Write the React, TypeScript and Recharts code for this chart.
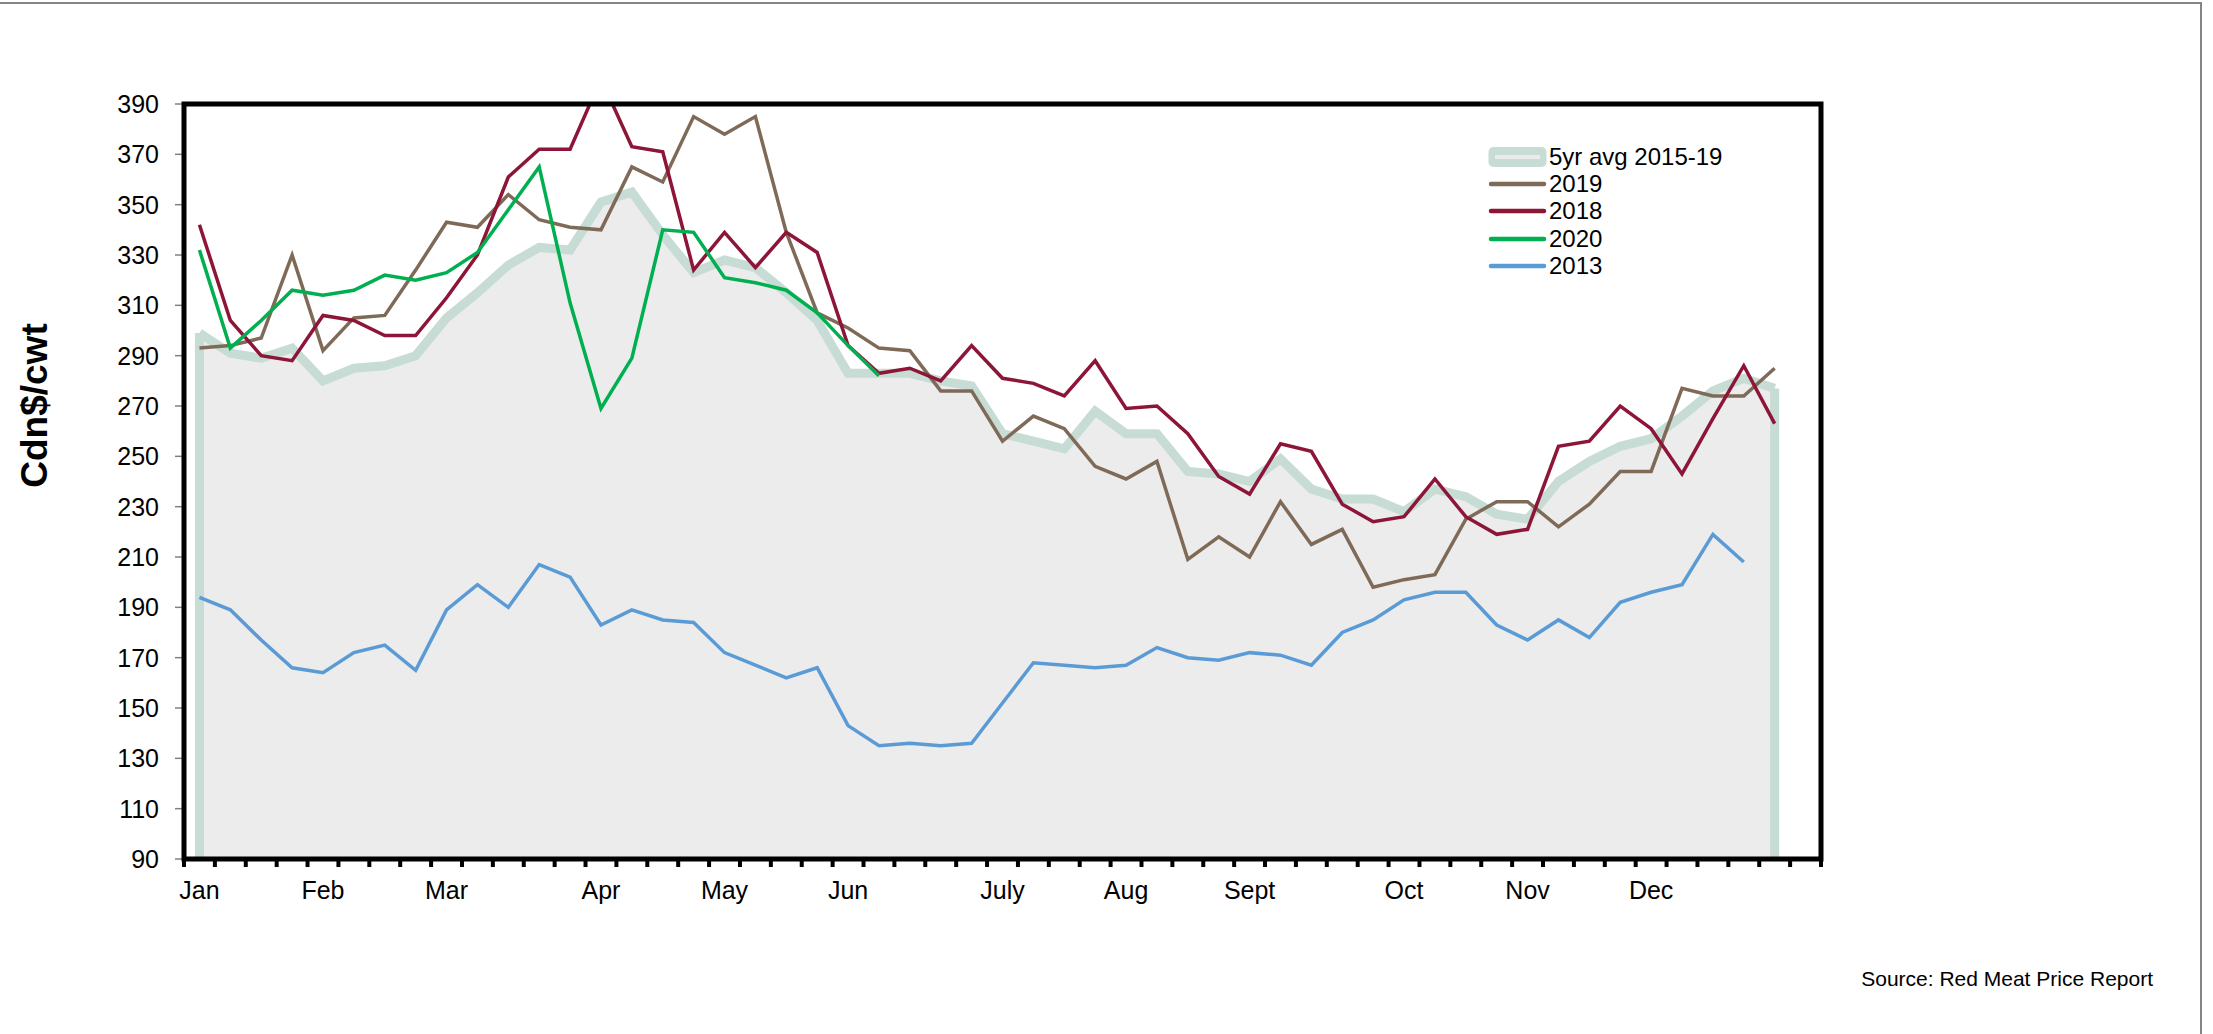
import { ComposedChart, Area, Line, XAxis, YAxis, ReferenceArea, ReferenceLine } from 'recharts';

const FONT = '"Liberation Sans", Arial, sans-serif';

// weekly categories, one slot past the last data point
const weeks = [
    'W1', 'W2', 'W3', 'W4', 'W5', 'W6', 'W7', 'W8', 'W9', 'W10',
    'W11', 'W12', 'W13', 'W14', 'W15', 'W16', 'W17', 'W18', 'W19', 'W20',
    'W21', 'W22', 'W23', 'W24', 'W25', 'W26', 'W27', 'W28', 'W29', 'W30',
    'W31', 'W32', 'W33', 'W34', 'W35', 'W36', 'W37', 'W38', 'W39', 'W40',
    'W41', 'W42', 'W43', 'W44', 'W45', 'W46', 'W47', 'W48', 'W49', 'W50',
    'W51', 'W52', 'W53',
];

const monthTicks = ['W1', 'W5', 'W9', 'W14', 'W18', 'W22', 'W27', 'W31', 'W35', 'W40', 'W44', 'W48'];
const monthLabels = ['Jan', 'Feb', 'Mar', 'Apr', 'May', 'Jun', 'July', 'Aug', 'Sept', 'Oct', 'Nov', 'Dec'];

const yTicks = [90, 110, 130, 150, 170, 190, 210, 230, 250, 270, 290, 310, 330, 350, 370, 390];

const avg5 = [
    299, 291, 289, 293, 280, 285, 286, 290, 305, 315,
    326, 333, 332, 351, 355, 338, 323, 328, 325, 315,
    304, 283, 283, 283, 280, 278, 259, 256, 253, 268,
    259, 259, 244, 243, 240, 249, 237, 233, 233, 228,
    237, 234, 227, 225, 240, 248, 254, 257, 266, 276,
    281, 277,
];

const y2019 = [
    293, 294, 297, 330, 292, 305, 306, 324, 343, 341,
    354, 344, 341, 340, 365, 359, 385, 378, 385, 339,
    307, 301, 293, 292, 276, 276, 256, 266, 261, 246,
    241, 248, 209, 218, 210, 232, 215, 221, 198, 201,
    203, 225, 232, 232, 222, 231, 244, 244, 277, 274,
    274, 285,
];

const y2018 = [
    342, 304, 290, 288, 306, 304, 298, 298, 313, 330,
    361, 372, 372, 400, 373, 371, 324, 339, 325, 339,
    331, 294, 283, 285, 280, 294, 281, 279, 274, 288,
    269, 270, 259, 242, 235, 255, 252, 231, 224, 226,
    241, 226, 219, 221, 254, 256, 270, 261, 243, 265,
    286, 263,
];

const y2020 = [
    332, 293, 304, 316, 314, 316, 322, 320, 323, 331,
    348, 365, 311, 269, 289, 340, 339, 321, 319, 316,
    307, 294, 282,
];

const y2013 = [
    194, 189, 177, 166, 164, 172, 175, 165, 189, 199,
    190, 207, 202, 183, 189, 185, 184, 172, 167, 162,
    166, 143, 135, 136, 135, 136, 152, 168, 167, 166,
    167, 174, 170, 169, 172, 171, 167, 180, 185, 193,
    196, 196, 183, 177, 185, 178, 192, 196, 199, 219,
    208,
];

const AVG_STROKE = '#c6dcd4';

const lineSeries = [
    { key: 'y2019', name: '2019', color: '#7f6a58' },
    { key: 'y2018', name: '2018', color: '#8c1538' },
    { key: 'y2020', name: '2020', color: '#00b050' },
    { key: 'y2013', name: '2013', color: '#5b9bd5' },
];

const data = weeks.map((week, i) => ({
    week,
    avg: avg5[i] ?? null,
    y2019: y2019[i] ?? null,
    y2018: y2018[i] ?? null,
    y2020: y2020[i] ?? null,
    y2013: y2013[i] ?? null,
}));

const tickStyle = { fontFamily: FONT, fontSize: 25, fill: '#000' };

// small black marks on the week boundaries (left edge of each band, plus the far right edge)
const WeekMark = ({ x, y, payload, index }: any) => {
    const half = payload?.offset ?? 15.44;
    return (
        <g>
            <line x1={x - half} y1={y} x2={x - half} y2={y + 8} stroke="#000" strokeWidth={4} />
            {index === weeks.length - 1 && (
                <line x1={x + half} y1={y} x2={x + half} y2={y + 8} stroke="#000" strokeWidth={4} />
            )}
        </g>
    );
};

const YLabel = ({ viewBox }: any) => {
    const cx = viewBox.x + 47;
    const cy = viewBox.y + viewBox.height / 2 - 76;
    return (
        <text x={cx} y={cy} transform={`rotate(-90 ${cx} ${cy})`} textAnchor="middle"
            fontFamily={FONT} fontSize={37} fontWeight="bold" fill="#000">
            Cdn$/cwt
        </text>
    );
};

const LegendBox = () => (
    <div style={{ position: 'absolute', left: 1488, top: 143, fontFamily: FONT, fontSize: 24, color: '#000' }}>
        <div style={{ display: 'flex', alignItems: 'center', height: 27.3 }}>
            <svg width={59} height={22}>
                <rect x={0.5} y={1} width={58} height={20} rx={5} fill={AVG_STROKE} />
                <rect x={7} y={9} width={45} height={4} fill="#e9ecea" />
            </svg>
            <span style={{ marginLeft: 2 }}>5yr avg 2015-19</span>
        </div>
        {lineSeries.map((s) => (
            <div key={s.key} style={{ display: 'flex', alignItems: 'center', height: 27.3 }}>
                <svg width={59} height={22}>
                    <line x1={3} y1={11} x2={56} y2={11} stroke={s.color} strokeWidth={4.5} strokeLinecap="round" />
                </svg>
                <span style={{ marginLeft: 2 }}>{s.name}</span>
            </div>
        ))}
    </div>
);

const App = () => {
    const last = avg5.length - 1;
    return (
        <div style={{ position: 'absolute', left: 0, top: 0, width: 2213, height: 1034, overflow: 'hidden', background: '#fff' }}>
            <div style={{ position: 'absolute', left: 0, top: 2, width: 2202, height: 1040, boxSizing: 'border-box', borderTop: '2px solid #858585', borderRight: '2px solid #858585' }} />
            <ComposedChart width={2213} height={1034} data={data} margin={{ top: 104, right: 392, bottom: 173, left: 0 }}>
                <XAxis
                    xAxisId="b"
                    dataKey="week"
                    type="category"
                    scale="band"
                    interval={0}
                    tick={WeekMark}
                    tickLine={false}
                    tickSize={0}
                    tickMargin={0}
                    axisLine={false}
                    height={1}
                />
                <XAxis
                    xAxisId="cat"
                    dataKey="week"
                    type="category"
                    scale="band"
                    ticks={monthTicks}
                    interval={0}
                    tickFormatter={(w: string) => monthLabels[monthTicks.indexOf(w)] ?? ''}
                    tick={tickStyle}
                    tickLine={false}
                    tickSize={0}
                    tickMargin={21}
                    axisLine={false}
                    height={1}
                />
                <YAxis
                    domain={[yTicks[0], yTicks[yTicks.length - 1]]}
                    allowDataOverflow
                    ticks={yTicks}
                    interval={0}
                    tick={tickStyle}
                    tickLine={{ stroke: '#808080', strokeWidth: 1.5 }}
                    tickSize={9}
                    tickMargin={16}
                    axisLine={false}
                    width={184}
                    label={YLabel}
                />
                <Area
                    xAxisId="cat"
                    type="linear"
                    dataKey="avg"
                    name="5yr avg 2015-19"
                    fill="#ececec"
                    fillOpacity={1}
                    stroke={AVG_STROKE}
                    strokeWidth={9}
                    dot={false}
                    activeDot={false}
                    isAnimationActive={false}
                />
                <ReferenceLine xAxisId="cat" segment={[{ x: weeks[0], y: yTicks[0] }, { x: weeks[0], y: avg5[0] }]} stroke={AVG_STROKE} strokeWidth={9} />
                <ReferenceLine xAxisId="cat" segment={[{ x: weeks[last], y: yTicks[0] }, { x: weeks[last], y: avg5[last] }]} stroke={AVG_STROKE} strokeWidth={9} />
                {lineSeries.map((s) => (
                    <Line
                        key={s.key}
                        xAxisId="cat"
                        type="linear"
                        dataKey={s.key}
                        name={s.name}
                        stroke={s.color}
                        strokeWidth={3.5}
                        dot={false}
                        activeDot={false}
                        isAnimationActive={false}
                    />
                ))}
                <ReferenceArea
                    xAxisId="cat"
                    x1={weeks[0]}
                    x2={weeks[weeks.length - 1]}
                    y1={yTicks[0]}
                    y2={yTicks[yTicks.length - 1]}
                    fill="none"
                    stroke="#000"
                    strokeWidth={5}
                    ifOverflow="visible"
                    zIndex={1500}
                />
            </ComposedChart>
            <LegendBox />
            <div style={{ position: 'absolute', left: 0, top: 968, width: 2153, textAlign: 'right', fontFamily: FONT, fontSize: 21, lineHeight: 1, color: '#000' }}>
                Source: Red Meat Price Report
            </div>
        </div>
    );
};

export default App;
